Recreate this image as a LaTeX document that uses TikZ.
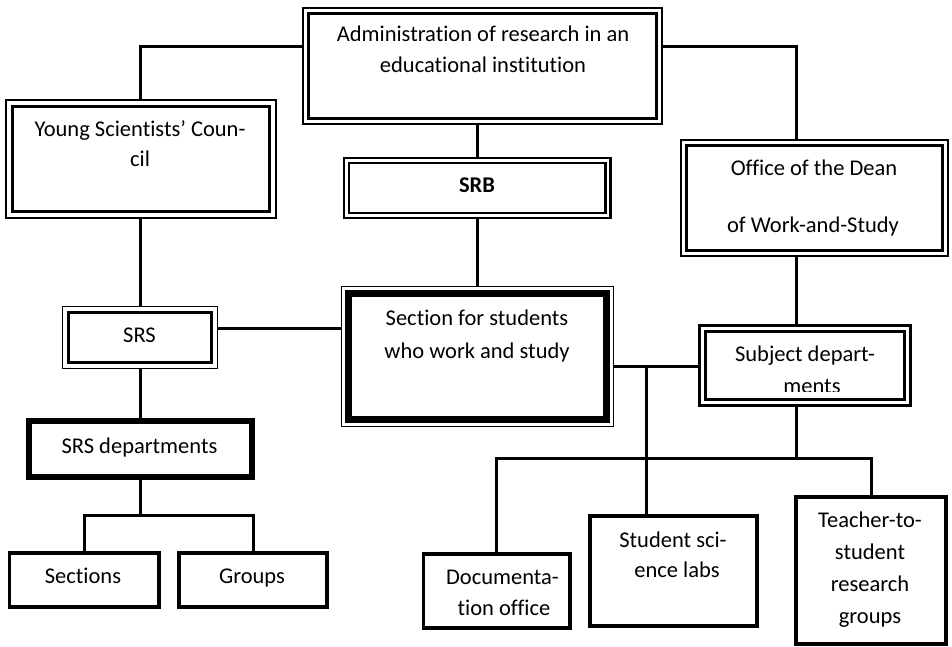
\documentclass[tikz,border=0pt]{standalone}
\usepackage{fontspec}
\setmainfont{Carlito}[Ligatures=NoCommon]
\usetikzlibrary{calc}
% outer frame: node boundary; inner frame drawn inset by #2 with width #3
\newcommand\innerframe[3]{\draw[line width=#3, line join=miter] ($(#1.north west)+(#2,#2)$) rectangle ($(#1.south east)-(#2,#2)$);}
\begin{document}
\begin{tikzpicture}[x=1pt,y=-1pt,
  boxframe/.style={draw, inner sep=0pt, outer sep=0pt, line join=miter},
  link/.style={line width=3pt, line join=miter},
  lbl/.style={inner sep=0pt, anchor=base, font=\fontsize{22.5}{31}\selectfont},
]
\useasboundingbox (0,0) rectangle (952,647);

% ---- boxes ----
\node[boxframe, line width=2.5pt, minimum width=359, minimum height=116] (admin) at (482.5,66) {};
\innerframe{admin}{5.5}{2.5pt}
\node[boxframe, line width=2pt, minimum width=270, minimum height=117] (ysc) at (140.5,159) {};
\innerframe{ysc}{6.5}{3pt}
\node[boxframe, line width=2.5pt, minimum width=266.5, minimum height=60] (srb) at (477.25,188) {};
\innerframe{srb}{5}{2.5pt}
\node[boxframe, line width=2.5pt, minimum width=267, minimum height=116] (office) at (814.5,198) {};
\innerframe{office}{5.5}{2.5pt}
\node[boxframe, line width=1.5pt, minimum width=155, minimum height=62] (srs) at (140,337.5) {};
\innerframe{srs}{6}{3pt}
\node[boxframe, line width=1.5pt, minimum width=272, minimum height=140] (section) at (477.5,356.5) {};
\innerframe{section}{7}{7pt}
\node[boxframe, line width=2.5pt, minimum width=211, minimum height=80] (subject) at (805,365.5) {};
\innerframe{subject}{6}{2.5pt}
\node[boxframe, line width=5.5pt, minimum width=223, minimum height=56] (srsdep) at (140.5,449) {};
\node[boxframe, line width=3.5pt, minimum width=149.5, minimum height=54] (sections) at (84.25,580) {};
\node[boxframe, line width=3.5pt, minimum width=148, minimum height=54] (groups) at (253,580) {};
\node[boxframe, line width=3.5pt, minimum width=146.5, minimum height=74] (docu) at (496.75,591) {};
\node[boxframe, line width=3.5pt, minimum width=167, minimum height=110] (labs) at (673.5,571) {};
\node[boxframe, line width=3.5pt, minimum width=150, minimum height=147] (teacher) at (871,570.5) {};

% ---- connector guides ----
\coordinate (aL) at ($(admin.north west)+(0,39)$);
\coordinate (aR) at ($(admin.north east)+(0,39)$);
\coordinate (dn) at (796,0);
\coordinate (vx) at (646,0);
\coordinate (hy1) at (0,328);
\coordinate (hy2) at (0,515);
\coordinate (hy3) at (0,366);
\coordinate (hy4) at (0,458);

% ---- connectors ----
\draw[link] (aL) -| (ysc.north);
\draw[link] (aR) -| (office.north -| dn);
\draw[link] (admin.south -| srb.north) -- (srb.north);
\draw[link] (srb.south) -- (srb.south |- section.north);
\draw[link] (ysc.south) -- (ysc.south |- srs.north);
\draw[link] (srs.east |- hy1) -- (section.west |- hy1);
\draw[link] (srs.south) -- (srs.south |- srsdep.north);
\draw[link] (srsdep.south) -- (srsdep.south |- hy2);
\draw[link] (sections.north) |- (hy2 -| groups.north) -- (groups.north);
\draw[link] (office.south -| dn) -- (subject.north -| dn);
\draw[link] (section.east |- hy3) -- (subject.west |- hy3);
\draw[link] (hy3 -| vx) -- (labs.north -| vx);
\draw[link] (subject.south -| dn) -- (hy4 -| dn);
\draw[link] (docu.north) |- (hy4 -| teacher.north) -- (teacher.north);

% ---- labels ----
\node[lbl] (tadmin1) at (483,42) {Administration of research in an};
\node[lbl] (tadmin2) at (483,72.5) {educational institution};
\node[lbl] (tysc1) at (140,136.7) {Young Scientists’ Coun-};
\node[lbl] (tysc2) at (140,166.7) {cil};
\node[lbl, font=\fontsize{22.5}{31}\selectfont\bfseries] (tsrb) at (477,192.5) {SRB};
\node[lbl] (toff1) at (814,175.7) {Office of the Dean};
\node[lbl] (toff2) at (813,232.7) {of Work-and-Study};
\node[lbl] (tsrs) at (139.5,342.7) {SRS};
\node[lbl] (tsec1) at (477,325.7) {Section for students};
\node[lbl] (tsec2) at (477,358.3) {who work and study};
\node[lbl] (tsub1) at (805,361.7) {Subject depart-};
\begin{scope}
  \clip (700,330) rectangle (910,391);
  \node[lbl] (tsub2) at (812,393) {ments};
\end{scope}
\node[lbl] (tsrsdep) at (139.5,453) {SRS departments};
\node[lbl] (tsections) at (83,583.3) {Sections};
\node[lbl] (tgroups) at (252,583.3) {Groups};
\node[lbl] (tdoc1) at (502.5,584) {Documenta-};
\node[lbl] (tdoc2) at (504,615.7) {tion office};
\node[lbl] (tlab1) at (673,547.3) {Student sci-};
\node[lbl] (tlab2) at (677,577.7) {ence labs};
\node[lbl] (tt1) at (870,527) {Teacher-to-};
\node[lbl] (tt2) at (870,559) {student};
\node[lbl] (tt3) at (870,591) {research};
\node[lbl] (tt4) at (870,623) {groups};
\end{tikzpicture}
\end{document}
